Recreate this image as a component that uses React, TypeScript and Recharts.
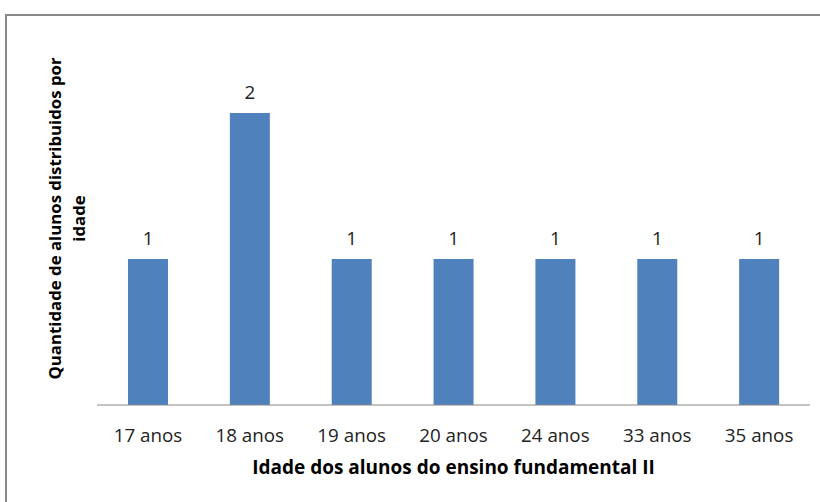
import React from "react";
import { BarChart, Bar, XAxis, YAxis, LabelList } from "recharts";

const categories: string[] = ["17 anos", "18 anos", "19 anos", "20 anos", "24 anos", "33 anos", "35 anos"];
const counts: number[] = [1, 2, 1, 1, 1, 1, 1];
const xTitle = "Idade dos alunos do ensino fundamental II";
const yTitleLines: string[] = ["Quantidade de alunos distribuidos por", "idade"];

const data = categories.map((c, i) => ({ age: c, count: counts[i] }));

const FONT = "'Open Sans', 'Noto Sans', sans-serif";

const YTitle = (props: any) => {
  const vb = props.viewBox || { x: 0, y: 0, width: 0, height: 0 };
  const cx = vb.x + 61;
  const cy = vb.y + vb.height / 2 - 4;
  return (
    <text
      x={cx}
      y={cy}
      transform={`rotate(-90, ${cx}, ${cy})`}
      textAnchor="middle"
      fontFamily={FONT}
      fontWeight="bold"
      fontSize={16.8}
      fill="#000"
    >
      <tspan x={cx} dy={0}>{yTitleLines[0]}</tspan>
      <tspan x={cx} dy={24}>{yTitleLines[1]}</tspan>
    </text>
  );
};

const XTitle = (props: any) => {
  const vb = props.viewBox || { x: 0, y: 0, width: 0, height: 0 };
  return (
    <text
      x={vb.x + vb.width / 2}
      y={vb.y + 69}
      textAnchor="middle"
      fontFamily={FONT}
      fontWeight="bold"
      fontSize={19}
      fill="#000"
    >
      {xTitle}
    </text>
  );
};

export default function App() {
  return (
    <div style={{ position: "absolute", left: 0, top: 0, width: 820, height: 502, overflow: "hidden", background: "#fff" }}>
      <div
        style={{
          position: "absolute",
          left: 5,
          top: 14,
          width: 840,
          height: 520,
          border: "2px solid #888",
          boxSizing: "border-box",
        }}
      />
      <div style={{ position: "absolute", left: 0, top: 0 }}>
        <BarChart width={820} height={502} data={data} margin={{ top: 40, right: 10, bottom: 0, left: 0 }}>
          <XAxis
            dataKey="age"
            height={97}
            axisLine={{ stroke: "#868686", strokeWidth: 1 }}
            tickLine={false}
            tickMargin={18}
            tick={{ fontFamily: FONT, fontSize: 18.8, fill: "#222" }}
            interval={0}
            label={<XTitle />}
          />
          <YAxis
            width={97}
            domain={[0, 2.5]}
            axisLine={false}
            tickLine={false}
            tick={false}
            label={<YTitle />}
          />
          <Bar dataKey="count" fill="#4F81BD" barSize={40} isAnimationActive={false}>
            <LabelList dataKey="count" position="top" offset={14} style={{ fontFamily: FONT, fontSize: 18.8, fill: "#222" }} />
          </Bar>
        </BarChart>
      </div>
    </div>
  );
}
